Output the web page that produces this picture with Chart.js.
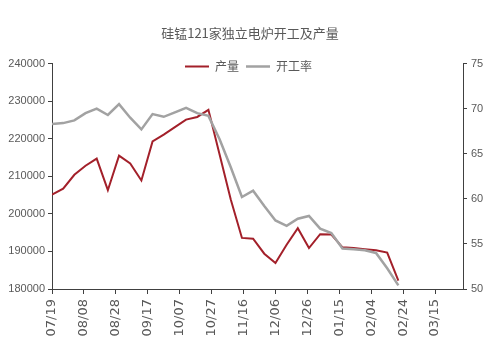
<!DOCTYPE html>
<html>
<head>
<meta charset="utf-8">
<script src="https://cdn.jsdelivr.net/npm/chart.js@4.4.0/dist/chart.umd.min.js"></script>
<style>
  html, body { margin: 0; background: #fff; }
</style>
</head>
<body>
<canvas id="chart" width="500" height="361"></canvas>
<script>
// weekly dates
const dates = [
  "2019-07-19", "2019-07-26", "2019-08-02", "2019-08-09", "2019-08-16", "2019-08-23",
  "2019-08-30", "2019-09-06", "2019-09-13", "2019-09-20", "2019-09-27", "2019-10-04",
  "2019-10-11", "2019-10-18", "2019-10-25", "2019-11-01", "2019-11-08", "2019-11-15",
  "2019-11-22", "2019-11-29", "2019-12-06", "2019-12-13", "2019-12-20", "2019-12-27",
  "2020-01-03", "2020-01-10", "2020-01-17", "2020-01-24", "2020-01-31", "2020-02-07",
  "2020-02-14", "2020-02-21"
];
// 产量 (left axis)
const output = [
  205100, 206700, 210400, 212800, 214700, 206300, 215500, 213400, 208900, 219300,
  221100, 223100, 225100, 225800, 227700, 215800, 203800, 193600, 193400, 189400,
  186900, 191800, 196200, 190900, 194600, 194500, 191100, 190900, 190600, 190300,
  189700, 182200
];
// 开工率 (right axis)
const rate = [
  68.3, 68.4, 68.7, 69.5, 70.0, 69.3, 70.5, 69.0, 67.7, 69.4,
  69.1, 69.6, 70.1, 69.5, 69.2, 66.6, 63.5, 60.2, 60.9, 59.2,
  57.6, 57.0, 57.8, 58.1, 56.7, 56.2, 54.5, 54.4, 54.3, 54.0,
  52.3, 50.4
];
const leftTicks = { min: 180000, max: 240000, step: 10000 };
const rightTicks = { min: 50, max: 75, step: 5 };
const dayStep = 20;

const base = Date.parse(dates[0]);
const DAY = 86400000;
const dayOf = d => (Date.parse(d) - base) / DAY;
const pad = n => String(n).padStart(2, "0");
const fmt = v => {
  const d = new Date(base + v * DAY);
  return pad(d.getUTCMonth() + 1) + "/" + pad(d.getUTCDate());
};

const axisColor = "#404040";
const textColor = "#595959";

// legend sits inside the plot, one row, at its top edge
const legendShift = {
  id: "legendShift",
  afterInit(chart) {
    chart.legend.isHorizontal = () => true;
  },
  afterLayout(chart) {
    const lg = chart.legend;
    lg.top = chart.chartArea.top - 10;
    lg.left += 43;
    lg.right += 43;
  }
};

new Chart(document.getElementById("chart"), {
  type: "line",
  data: {
    datasets: [
      {
        label: "开工率",
        data: dates.map((d, i) => ({ x: dayOf(d), y: rate[i] })),
        yAxisID: "y1",
        borderColor: "#a2a2a2",
        backgroundColor: "#a2a2a2",
        borderWidth: 2.5,
        pointRadius: 0,
        tension: 0
      },
      {
        label: "产量",
        data: dates.map((d, i) => ({ x: dayOf(d), y: output[i] })),
        yAxisID: "y",
        borderColor: "#a3202a",
        backgroundColor: "#a3202a",
        borderWidth: 2,
        pointRadius: 0,
        tension: 0
      }
    ]
  },
  options: {
    responsive: false,
    animation: false,
    layout: { padding: 0 },
    plugins: {
      title: {
        display: true,
        text: "硅锰121家独立电炉开工及产量",
        color: textColor,
        font: { family: "'Noto Sans CJK SC'", size: 13, weight: "normal" },
        padding: { top: 25, bottom: 23 }
      },
      legend: {
        position: "chartArea",
        reverse: true,
        labels: {
          usePointStyle: true,
          pointStyle: "line",
          pointStyleWidth: 24,
          padding: 7,
          color: textColor,
          font: { family: "'Noto Sans CJK SC'", size: 12 }
        }
      },
      tooltip: { enabled: false }
    },
    scales: {
      x: {
        type: "linear",
        min: 0,
        max: 257.5,
        afterBuildTicks: s => { s.ticks = s.ticks.filter(t => t.value % dayStep === 0); },
        afterFit: s => { s.height = 72; },
        ticks: {
          stepSize: dayStep,
          autoSkip: false,
          minRotation: 90,
          maxRotation: 90,
          padding: 5,
          color: textColor,
          font: { family: "'DejaVu Sans'", size: 13 },
          callback: v => fmt(v)
        },
        grid: { display: true, drawOnChartArea: false, tickLength: 5, color: axisColor },
        border: { color: axisColor, width: 1 }
      },
      y: {
        position: "left",
        min: leftTicks.min,
        max: leftTicks.max,
        afterFit: s => { s.width = 52; },
        ticks: {
          stepSize: leftTicks.step,
          padding: 3,
          color: textColor,
          font: { family: "'Liberation Sans'", size: 11 },
          callback: v => String(v)
        },
        grid: { display: true, drawOnChartArea: false, tickLength: 4, color: axisColor },
        border: { color: axisColor, width: 1 }
      },
      y1: {
        position: "right",
        min: rightTicks.min,
        max: rightTicks.max,
        afterFit: s => { s.width = 37; },
        ticks: {
          stepSize: rightTicks.step,
          padding: 4,
          color: textColor,
          font: { family: "'Liberation Sans'", size: 11 },
          callback: v => String(v)
        },
        grid: { display: true, drawOnChartArea: false, tickLength: 4, color: axisColor },
        border: { color: axisColor, width: 1 }
      }
    }
  },
  plugins: [legendShift]
});
</script>
</body>
</html>
